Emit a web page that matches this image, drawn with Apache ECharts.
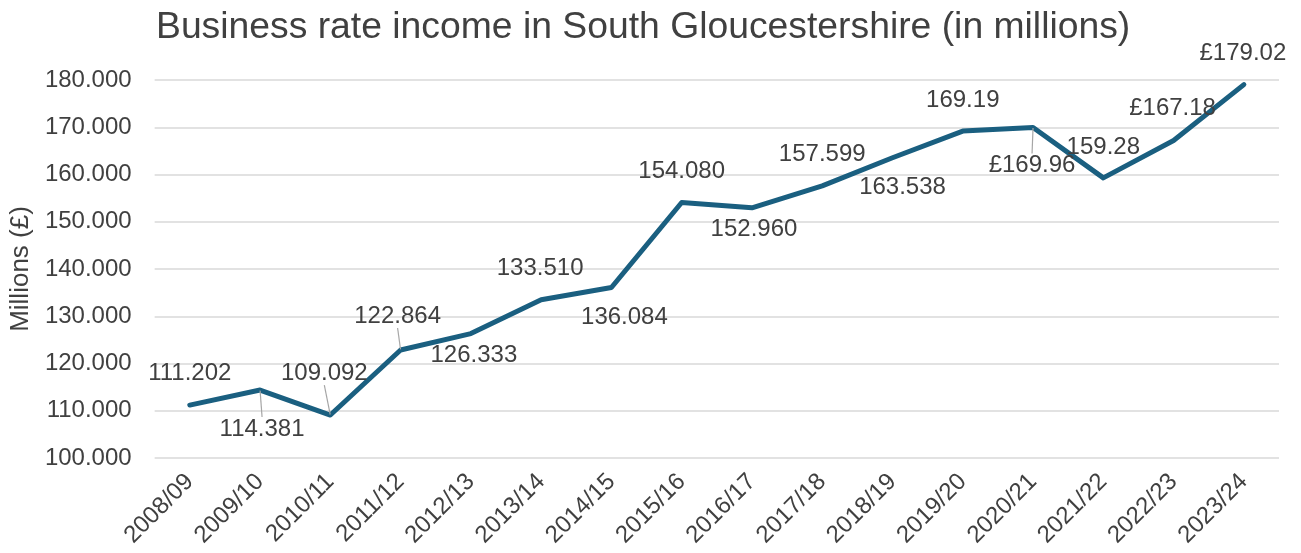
<!DOCTYPE html>
<html>
<head>
<meta charset="utf-8">
<script src="https://cdn.jsdelivr.net/npm/echarts@6/dist/echarts.min.js"></script>
<style>
html,body{margin:0;padding:0;background:#fff;}
#chart{width:1301px;height:553px;}
</style>
</head>
<body>
<div id="chart"></div>
<script>
const categories = ['2008/09','2009/10','2010/11','2011/12','2012/13','2013/14','2014/15','2015/16','2016/17','2017/18','2018/19','2019/20','2020/21','2021/22','2022/23','2023/24'];
const incomeValues = [111.202,114.381,109.092,122.864,126.333,133.510,136.084,154.080,152.960,157.599,163.538,169.19,169.96,159.28,167.18,179.02];
const labelTexts = ['111.202','114.381','109.092','122.864','126.333','133.510','136.084','154.080','152.960','157.599','163.538','169.19','£169.96','159.28','£167.18','£179.02'];
const yTicks = { min: 100, max: 180, interval: 10 };

// label placement relative to each point (dx, dy) and whether a leader line is drawn
const labelOffsets = [[0,-32],[2,39],[-6,-42],[-3,-34],[3,22],[-1,-31],[13,30],[0,-31],[2,22],[0,-31],[10,30],[0,-31],[-1,38],[0,-31],[-1,-32],[-1,-31]];
const leaderLines = [false,true,true,true,false,false,false,false,false,false,false,false,true,false,false,false];

const chart = echarts.init(document.getElementById('chart'));
const FONT = '"Liberation Sans", Arial, sans-serif';
const TXT = '#404040';

chart.setOption({
  animation: false,
  title: {
    text: 'Business rate income in South Gloucestershire (in millions)',
    left: 151, top: 4,
    textStyle: { fontFamily: FONT, fontSize: 37.3, fontWeight: 'normal', color: TXT }
  },
  grid: { left: 152, right: 22, top: 80, bottom: 95 },
  xAxis: {
    type: 'category',
    data: categories,
    boundaryGap: true,
    axisLine: { show: false },
    axisTick: { show: false },
    axisLabel: { rotate: 45, margin: 20, fontFamily: FONT, fontSize: 24, color: TXT, interval: 0 }
  },
  yAxis: {
    type: 'value',
    min: yTicks.min, max: yTicks.max, interval: yTicks.interval,
    name: 'Millions (£)',
    nameLocation: 'middle',
    nameGap: 117,
    nameRotate: 90,
    nameTextStyle: { fontFamily: FONT, fontSize: 26, color: TXT },
    axisLine: { show: false },
    axisTick: { show: false },
    axisLabel: { margin: 23, fontFamily: FONT, fontSize: 24, color: TXT, formatter: v => v.toFixed(3) },
    splitLine: { lineStyle: { color: '#d9d9d9', width: 1.5 } }
  },
  series: [{
    type: 'line',
    data: incomeValues.map((v, i) => ({
      value: v,
      labelLine: { show: leaderLines[i] }
    })),
    symbol: 'circle',
    symbolSize: 1,
    showSymbol: true,
    itemStyle: { color: '#1a5f80' },
    lineStyle: { color: '#1a5f80', width: 5, cap: 'round', join: 'round' },
    label: {
      show: true,
      position: 'inside',
      fontFamily: FONT, fontSize: 24, color: TXT,
      formatter: p => labelTexts[p.dataIndex]
    },
    labelLine: { show: false, lineStyle: { color: '#a6a6a6', width: 1.2 } },
    labelLayout: p => ({ dx: labelOffsets[p.dataIndex][0], dy: labelOffsets[p.dataIndex][1] })
  }]
});
</script>
</body>
</html>
